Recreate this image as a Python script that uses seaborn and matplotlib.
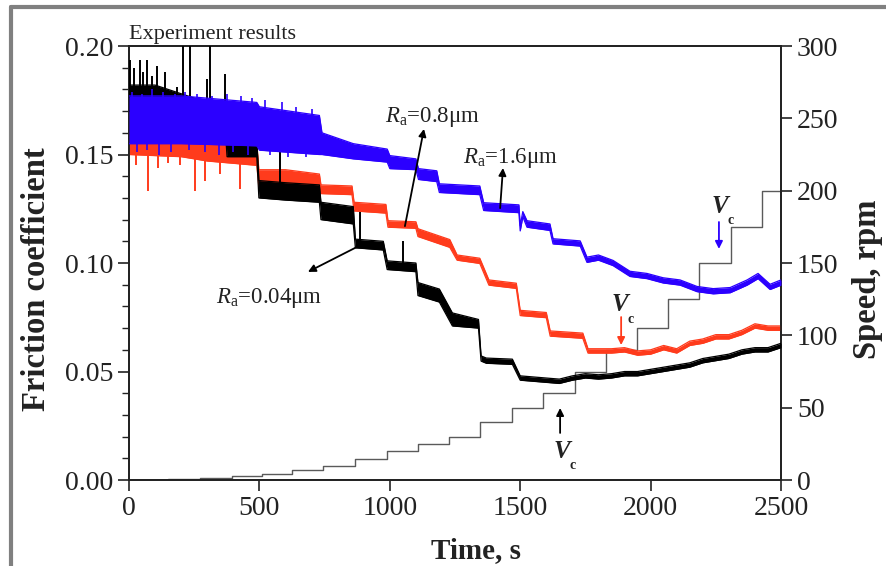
import numpy as np
import pandas as pd
import seaborn as sns
import matplotlib
matplotlib.use("Agg")
import matplotlib.pyplot as plt
from matplotlib.lines import Line2D
from matplotlib.ticker import MultipleLocator

# ---------------- data ----------------
# Each trace: time knots, centre value and half-width of the noisy band
# Ra = 0.04 um (black)
black_t = [0, 100, 200, 300, 370, 376, 490, 498, 600, 730, 736, 860, 868, 975, 990, 1100, 1108,
           1190, 1240, 1340, 1350, 1370, 1470, 1500, 1600, 1650, 1700, 1750, 1800, 1850, 1900,
           1950, 2000, 2050, 2100, 2150, 2200, 2250, 2300, 2350, 2400, 2450, 2500]
black_c = [0.176, 0.176, 0.172, 0.168, 0.166, 0.153, 0.153, 0.134, 0.133, 0.132, 0.124, 0.122,
           0.109, 0.108, 0.099, 0.098, 0.088, 0.085, 0.074, 0.072, 0.056, 0.055, 0.0545, 0.047,
           0.046, 0.0455, 0.047, 0.048, 0.0475, 0.048, 0.049, 0.049, 0.050, 0.051, 0.052, 0.053,
           0.055, 0.056, 0.057, 0.059, 0.060, 0.060, 0.062]
black_w = [0.006, 0.006, 0.006, 0.006, 0.006, 0.004, 0.004, 0.004, 0.004, 0.004, 0.004, 0.004,
           0.002, 0.002, 0.002, 0.002, 0.003, 0.003, 0.003, 0.002, 0.0012, 0.0012, 0.0012, 0.001,
           0.001, 0.001, 0.001, 0.001, 0.001, 0.001, 0.001, 0.001, 0.001, 0.001, 0.001, 0.001,
           0.001, 0.001, 0.001, 0.001, 0.001, 0.001, 0.001]
black_spike_t = [4, 20, 42, 55, 69, 88, 107, 138, 184, 207, 234, 299, 311, 368, 578, 886, 1052]
black_spike_y = [0.1935, 0.190, 0.1935, 0.188, 0.1935, 0.186, 0.191, 0.188, 0.181, 0.205, 0.205,
                 0.185, 0.205, 0.187, 0.153, 0.1235, 0.110]

# Ra = 0.8 um (red)
red_t = [0, 200, 300, 490, 498, 600, 730, 736, 855, 863, 985, 993, 1100, 1108, 1230, 1258, 1345,
         1380, 1485, 1500, 1600, 1615, 1740, 1760, 1850, 1900, 1950, 2000, 2050, 2100, 2150,
         2200, 2250, 2300, 2350, 2400, 2450, 2500]
red_c = [0.155, 0.154, 0.152, 0.150, 0.139, 0.139, 0.137, 0.134, 0.1335, 0.126, 0.125, 0.118,
         0.1175, 0.114, 0.109, 0.1025, 0.101, 0.091, 0.0895, 0.077, 0.076, 0.0675, 0.0665,
         0.0595, 0.0595, 0.060, 0.0585, 0.059, 0.061, 0.0595, 0.063, 0.064, 0.066, 0.066, 0.068,
         0.071, 0.070, 0.070]
red_w = [0.005, 0.005, 0.005, 0.005, 0.004, 0.004, 0.004, 0.002, 0.002, 0.002, 0.002, 0.0015,
         0.0015, 0.0018, 0.0018, 0.0012, 0.0012, 0.0012, 0.0012, 0.0012, 0.0012, 0.0012, 0.0012,
         0.001, 0.001, 0.001, 0.001, 0.001, 0.001, 0.001, 0.001, 0.001, 0.001, 0.001, 0.001,
         0.001, 0.001, 0.001]
red_spike_t = [25, 72, 111, 149, 195, 253, 291, 350, 425, 560, 640]
red_spike_y = [0.145, 0.133, 0.144, 0.146, 0.145, 0.133, 0.138, 0.141, 0.134, 0.131, 0.130]

# Ra = 1.6 um (blue)
blue_t = [0, 200, 490, 500, 730, 740, 860, 990, 1000, 1100, 1110, 1180, 1190, 1345, 1360, 1495,
          1500, 1510, 1526, 1614, 1626, 1730, 1756, 1800, 1856, 1921, 1986, 2048, 2113, 2178,
          2240, 2305, 2370, 2412, 2458, 2500]
blue_c = [0.166, 0.166, 0.164, 0.162, 0.159, 0.155, 0.1515, 0.1495, 0.1465, 0.1455, 0.141,
          0.140, 0.1345, 0.1335, 0.126, 0.125, 0.116, 0.1225, 0.118, 0.1165, 0.110, 0.109,
          0.1015, 0.1025, 0.100, 0.095, 0.094, 0.092, 0.091, 0.088, 0.087, 0.0875, 0.091,
          0.094, 0.089, 0.091]
blue_w = [0.011, 0.011, 0.010, 0.010, 0.009, 0.005, 0.0035, 0.003, 0.003, 0.0025, 0.0025,
          0.0025, 0.002, 0.002, 0.0018, 0.0018, 0.0012, 0.0012, 0.0015, 0.0015, 0.0012, 0.0012,
          0.0012, 0.0012, 0.0012, 0.0012, 0.0012, 0.0012, 0.0012, 0.0012, 0.0012, 0.0012,
          0.0012, 0.0012, 0.0012, 0.0012]
blue_spike_t = [12, 48, 90, 130, 175, 215, 260, 320, 375, 430, 470, 520, 585, 640, 700,
                30, 70, 115, 160, 230, 290, 345, 400, 455, 540, 610, 680]
blue_spike_y = [0.179, 0.178, 0.180, 0.179, 0.178, 0.179, 0.178, 0.177, 0.178, 0.177, 0.176,
                0.175, 0.174, 0.172, 0.171,
                0.151, 0.152, 0.150, 0.151, 0.152, 0.151, 0.150, 0.151, 0.150, 0.150, 0.149,
                0.149]

# speed program (right axis)
speed_t = [0, 150, 272, 395, 510, 625, 745, 867, 989, 1108, 1226, 1346, 1468, 1588, 1710,
           1829, 1948, 2067, 2186, 2308, 2427, 2500]
speed_rpm = [0, 1, 1.5, 2.5, 4.5, 7, 9.5, 14.5, 20, 25, 30, 40, 50, 60, 75, 90, 105, 125, 150,
             175, 200, 200]

x_ticks = [0, 500, 1000, 1500, 2000, 2500]
y_ticks = [0.00, 0.05, 0.10, 0.15, 0.20]
y2_ticks = [0, 50, 100, 150, 200, 250, 300]

# ---------------- styling ----------------
sns.set_theme(style="ticks")
serif = "Liberation Serif"
plt.rcParams["font.family"] = [serif, "DejaVu Serif"]
plt.rcParams["mathtext.fontset"] = "custom"
plt.rcParams["mathtext.rm"] = serif
plt.rcParams["mathtext.it"] = serif + ":italic"
plt.rcParams["mathtext.bf"] = serif + ":bold"

BLACK = "#000000"
RED = "#ff3b1c"
BLUE = "#2b00ff"
GREY = "#5a5a5a"
TXT = "#222222"

fig = plt.figure(figsize=(8.86, 5.66), dpi=100)
ax = fig.add_axes([0.1456, 0.1519, 0.8815 - 0.1456, 0.9187 - 0.1519])


def band(t, c, w, color, z):
    df = pd.DataFrame({"t": t, "c": c, "w": w})
    df["lo"] = df["c"] - df["w"]
    df["hi"] = df["c"] + df["w"]
    sns.lineplot(data=df, x="t", y="lo", ax=ax, color=color, lw=0.9, zorder=z, sort=False)
    sns.lineplot(data=df, x="t", y="hi", ax=ax, color=color, lw=0.9, zorder=z, sort=False)
    ax.fill_between(df["t"], df["lo"], df["hi"], color=color, lw=0, zorder=z)
    return df


def spikes(t, y, df, color, z, lw=1.4):
    base = np.interp(t, df["t"], df["c"])
    ax.vlines(t, base, y, color=color, lw=lw, zorder=z)


rdf = band(red_t, red_c, red_w, RED, 2)
spikes(red_spike_t, red_spike_y, rdf, RED, 2)
kdf = band(black_t, black_c, black_w, BLACK, 3)
spikes(black_spike_t, black_spike_y, kdf, BLACK, 3)
bdf = band(blue_t, blue_c, blue_w, BLUE, 4)
spikes(blue_spike_t, blue_spike_y, bdf, BLUE, 4, lw=1.2)

ax.set_xlim(0, 2500)
ax.set_ylim(0, 0.20)
ax.set_xticks(x_ticks)
ax.set_yticks(y_ticks)
ax.set_yticklabels([f"{v:.2f}" for v in y_ticks])
ax.yaxis.set_minor_locator(MultipleLocator(0.01))
ax.tick_params(axis="both", which="major", direction="out", length=8, width=1.2,
               labelsize=20, colors=TXT)
ax.tick_params(axis="y", which="minor", direction="out", length=5, width=1.0, colors=TXT)
for s in ax.spines.values():
    s.set_linewidth(1.3)
    s.set_color(TXT)
ax.set_xlabel("Time, s", fontsize=21, fontweight="bold", color=TXT)
ax.set_ylabel("Friction coefficient", fontsize=23.5, fontweight="bold", color=TXT)
ax.xaxis.set_label_coords(0.532, -0.131)
ax.yaxis.set_label_coords(-0.118, 0.462)
ax.patch.set_alpha(0)

ax2 = ax.twinx()
sdf = pd.DataFrame({"t": speed_t, "rpm": speed_rpm})
sns.lineplot(data=sdf, x="t", y="rpm", ax=ax2, color=GREY, lw=1.0, drawstyle="steps-post",
             zorder=1)
ax2.set_ylim(0, 300)
ax2.set_yticks(y2_ticks)
ax2.tick_params(axis="y", direction="out", length=8, width=1.2, labelsize=20, colors=TXT)
ax2.set_ylabel("Speed, rpm", fontsize=23.5, fontweight="bold", color=TXT)
ax2.yaxis.set_label_coords(1.109, 0.462)
ax2.set_xlabel("")
for s in ax2.spines.values():
    s.set_linewidth(1.3)
    s.set_color(TXT)
ax.set_zorder(ax2.get_zorder() + 1)

# ---------------- annotations ----------------
ax.text(0.0, 1.004, "Experiment results", transform=ax.transAxes, fontsize=16,
        va="bottom", ha="left", color=TXT)

arrow = dict(arrowstyle="-|>", color="black", lw=1.3, mutation_scale=11, shrinkA=0, shrinkB=0)
ax.annotate("", xy=(1131, 0.1618), xytext=(1058, 0.117), arrowprops=arrow, zorder=6)
ax.text(982, 0.165, r"$R_{\mathrm{a}}$=0.8μm", fontsize=16.5, color=TXT)
ax.annotate("", xy=(1434, 0.1438), xytext=(1423, 0.1253), arrowprops=arrow, zorder=6)
ax.text(1281, 0.146, r"$R_{\mathrm{a}}$=1.6μm", fontsize=16.5, color=TXT)
ax.annotate("", xy=(686, 0.0959), xytext=(874, 0.1074), arrowprops=arrow, zorder=6)
ax.text(334, 0.0816, r"$R_{\mathrm{a}}$=0.04μm", fontsize=16.5, color=TXT)


def vc_label(tv, fv, tc, fc):
    ax.text(tv, fv, "V", fontsize=18, style="italic", fontweight="bold", color=TXT)
    ax.text(tc, fc, "c", fontsize=10, fontweight="bold", color=TXT, ha="center", va="center")


ax.annotate("", xy=(1653, 0.0332), xytext=(1653, 0.0217), arrowprops=arrow)
vc_label(1626, 0.0101, 1699, 0.0065)
ax.annotate("", xy=(1887, 0.0622), xytext=(1887, 0.0751), arrowprops=dict(arrow, color=RED))
vc_label(1852, 0.0779, 1925, 0.0742)
ax.annotate("", xy=(2262, 0.1065), xytext=(2262, 0.1189), arrowprops=dict(arrow, color=BLUE))
vc_label(2235, 0.123, 2308, 0.1198)

# grey page frame (top and left edges)
fig.add_artist(Line2D([0.0124, 0.0124], [0.0, 0.9885], transform=fig.transFigure,
                      color="#808080", lw=3))
fig.add_artist(Line2D([0.0124, 1.0], [0.9885, 0.9885], transform=fig.transFigure,
                      color="#808080", lw=3))

fig.savefig("out.png", dpi=100)
